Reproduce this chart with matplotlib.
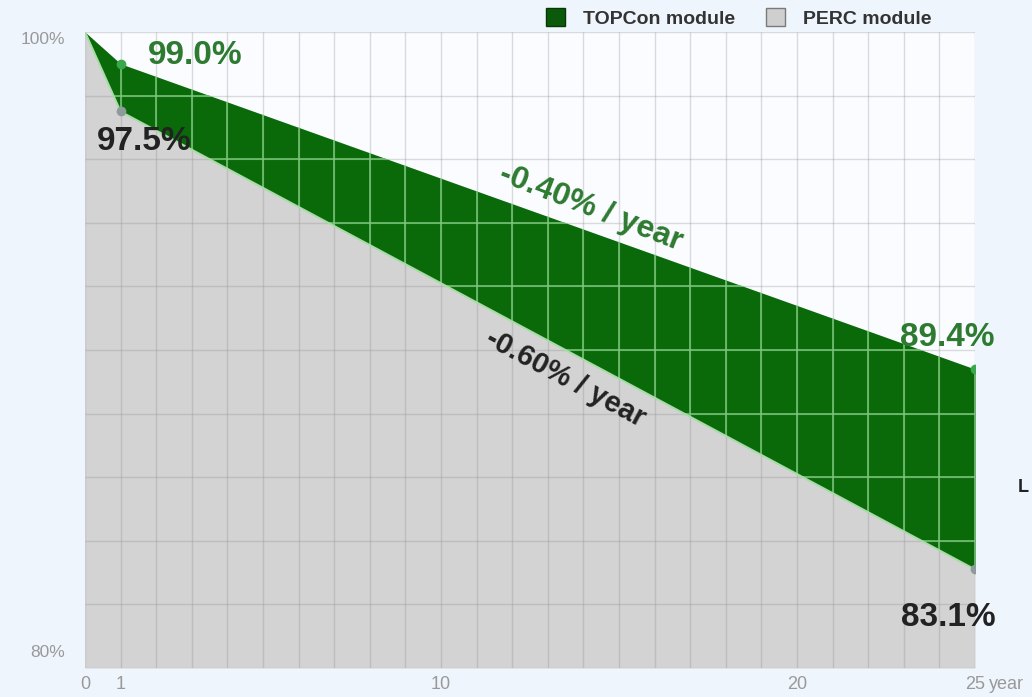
import numpy as np
import matplotlib
matplotlib.use("Agg")
import matplotlib.pyplot as plt
from matplotlib.patches import Patch

# Potencia relativa garantizada (%) por año de operación
years = [0, 1, 25]
topcon = [100.0, 99.0, 89.4]
perc = [100.0, 97.5, 83.1]

labels_series = ["TOPCon module", "PERC module"]
rate_labels = ["-0.40% / year", "-0.60% / year"]
xtick_vals = [0, 1, 10, 20, 25]
xtick_text = ["0", "1", "10", "20", "25"]
ytick_vals = [100, 80]
ytick_text = ["100%", "80%"]

VERDE = "#0a6a0a"
VERDE_TXT = "#2d7a30"
VERDE_GRID = "#7cc97c"
GRIS = "#d3d3d3"
GRIS_TXT = "#222222"

plt.rcParams["font.family"] = ["Liberation Sans", "DejaVu Sans"]

fig = plt.figure(figsize=(10.32, 6.97), dpi=100, facecolor="#eff5fc")
ax = fig.add_axes([0.0824, 0.0416, 0.8624, 0.9125])
ax.set_facecolor("#fafcff")
ax.set_xlim(0, 25)
ax.set_ylim(80, 100)
for s in ax.spines.values():
    s.set_visible(False)

# ── Áreas ──
ax.fill_between(years, 80, perc, color=GRIS, lw=0, zorder=1)
verde = ax.fill_between(years, perc, topcon, color=VERDE, lw=0, zorder=2)

# ── Grilla: gris general y verde clara dentro del área TOPCon ──
gx = np.arange(0, 26)
gy = np.arange(80, 101, 2)
ax.vlines(gx, 80, 100, color="#8c8c8c", alpha=0.3, lw=1, zorder=3)
ax.hlines(gy, 0, 25, color="#8c8c8c", alpha=0.3, lw=1, zorder=3)
clip = verde.get_paths()[0]
vl = ax.vlines(gx, 80, 100, color=VERDE_GRID, lw=1.1, zorder=4)
hl = ax.hlines(gy, 0, 25, color=VERDE_GRID, lw=1.1, zorder=4)
vl.set_clip_path(clip, ax.transData)
hl.set_clip_path(clip, ax.transData)

# borde entre ambas áreas
ax.plot(years, perc, color="#a6dca6", lw=1.4, zorder=5)

# ── Puntos ──
ax.plot(years[1:], topcon[1:], "o", ms=6, color="#3aa84a", zorder=6)
ax.plot(years[1:], perc[1:], "o", ms=6, color="#8d9b99", zorder=6)

# ── Etiquetas de valores ──
kw = dict(textcoords="offset pixels", ha="center", va="center",
          fontsize=24, fontweight="bold", zorder=7)
ax.annotate(f"{topcon[1]:.1f}%", (years[1], topcon[1]), xytext=(75, 8),
            color=VERDE_TXT, **kw)
ax.annotate(f"{perc[1]:.1f}%", (years[1], perc[1]), xytext=(24, -30),
            color=GRIS_TXT, **kw)
ax.annotate(f"{topcon[2]:.1f}%", (years[2], topcon[2]), xytext=(-28, 32),
            color=VERDE_TXT, **kw)
ax.annotate(f"{perc[2]:.1f}%", (years[2], perc[2]), xytext=(-27, -48),
            color=GRIS_TXT, **kw)


def angulo(serie):
    p0 = ax.transData.transform((years[1], serie[1]))
    p1 = ax.transData.transform((years[2], serie[2]))
    return np.degrees(np.arctan2(p1[1] - p0[1], p1[0] - p0[0]))


xm = 14.2
ax.annotate(rate_labels[0], (xm, np.interp(xm, years, topcon)), xytext=(0, 24),
            textcoords="offset pixels", ha="center", va="center",
            rotation=angulo(topcon) - 1.5, rotation_mode="anchor",
            fontsize=23, fontweight="bold", color=VERDE_TXT, zorder=7)
xm = 13.5
ax.annotate(rate_labels[1], (xm, np.interp(xm, years, perc)), xytext=(0, -28),
            textcoords="offset pixels", ha="center", va="center",
            rotation=angulo(perc), rotation_mode="anchor",
            fontsize=21, fontweight="bold", color=GRIS_TXT, zorder=7)

# ── Ejes ──
ax.set_xticks(xtick_vals)
ax.set_xticklabels(xtick_text, fontsize=13, color="#999999")
ax.tick_params(length=0, pad=6)
ax.set_yticks([])
for v, t, dy in zip(ytick_vals, ytick_text, (-8, 16)):
    ax.annotate(t, (0, v), xytext=(-20, dy), textcoords="offset pixels",
                ha="right", va="center", fontsize=12.5, color="#999999",
                annotation_clip=False)
ax.annotate("year", (25, 80), xytext=(14, -16), textcoords="offset pixels",
            ha="left", va="center", fontsize=13, color="#999999",
            annotation_clip=False)

# ── Leyenda ──
handles = [Patch(facecolor="#0b5a0b", edgecolor="#063806"),
           Patch(facecolor="#cfcfcf", edgecolor="#7a7a7a")]
fig.legend(handles, labels_series, loc="center", bbox_to_anchor=(0.7156, 0.974),
           ncol=2, frameon=False, handlelength=1.0, handleheight=1.0,
           columnspacing=1.6, handletextpad=0.9,
           prop={"weight": "bold", "size": 14})
for t in fig.legends[0].get_texts():
    t.set_color("#333333")

fig.text(0.986, 1 - 487 / 697, "L", fontsize=13, fontweight="bold",
         color="#222222", ha="left", va="center")

plt.savefig("out.png", dpi=100, facecolor=fig.get_facecolor())
